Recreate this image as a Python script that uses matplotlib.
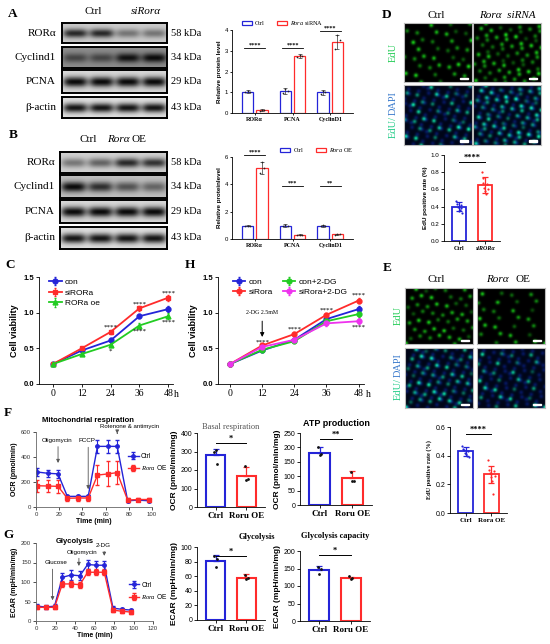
import numpy as np
import matplotlib
matplotlib.use('Agg')
import matplotlib.pyplot as plt
from matplotlib.patches import Rectangle, Patch

plt.rcParams['font.family'] = ['Liberation Sans', 'DejaVu Sans']
plt.rcParams['mathtext.fontset'] = 'custom'
plt.rcParams['mathtext.it'] = 'Liberation Serif:italic'
plt.rcParams['mathtext.rm'] = 'Liberation Serif'
plt.rcParams['axes.linewidth'] = 0.6
plt.rcParams['xtick.major.width'] = 0.6
plt.rcParams['ytick.major.width'] = 0.6
plt.rcParams['xtick.major.size'] = 2
plt.rcParams['ytick.major.size'] = 2
plt.rcParams['xtick.major.pad'] = 1.5
plt.rcParams['ytick.major.pad'] = 1.5

SERIF = ['Liberation Serif', 'DejaVu Serif']
BLUE = '#2424d8'
RED = '#ff2b2b'
GREEN = '#22cc22'
MAG = '#ee33ee'

# ---------------- data ----------------
blot_proteins = ['RORα', 'Cyclind1', 'PCNA', 'β-actin']
blot_kda = ['58 kDa', '34 kDa', '29 kDa', '43 kDa']
blotA_intensity = [[0.85, 0.85, 0.45, 0.45], [0.55, 0.55, 0.95, 1.0], [1, 1, 1, 1], [0.95, 0.95, 0.95, 0.95]]
blotA_bg = [0.80, 0.55, 0.85, 0.88]
blotB_intensity = [[0.45, 0.55, 0.85, 0.8], [1.0, 0.8, 0.6, 0.5], [1, 1, 1, 1], [0.95, 0.95, 0.95, 0.95]]
blotB_bg = [0.82, 0.75, 0.85, 0.88]

bar_groups = ['RORα', 'PCNA', 'CyclinD1']
A_ctrl = [1.03, 1.06, 1.00]
A_ctrl_err = [0.07, 0.16, 0.12]
A_ctrl_pts = [[1.00, 1.08, 1.02], [0.95, 1.15, 1.07], [0.92, 1.06, 1.02]]
A_si = [0.14, 2.75, 3.42]
A_si_err = [0.03, 0.08, 0.35]
A_si_pts = [[0.12, 0.16, 0.14], [2.70, 2.80, 2.75], [3.10, 3.75, 3.50]]
A_sig = ['****', '****', '****']
A_sig_y = [3.15, 3.15, 3.95]

B_ctrl = [0.97, 0.98, 0.97]
B_ctrl_err = [0.04, 0.10, 0.06]
B_ctrl_pts = [[0.95, 0.98, 0.97], [0.92, 1.05, 0.98], [0.94, 1.00, 0.97]]
B_oe = [5.20, 0.30, 0.33]
B_oe_err = [0.45, 0.04, 0.05]
B_oe_pts = [[4.80, 5.60, 5.20], [0.28, 0.32, 0.30], [0.30, 0.36, 0.33]]
B_sig = ['****', '***', '**']
B_sig_y = [6.15, 3.9, 3.9]

hours = [0, 12, 24, 36, 48]
C_con = [0.28, 0.47, 0.61, 0.95, 1.05]
C_si = [0.28, 0.50, 0.73, 1.06, 1.21]
C_oe = [0.28, 0.42, 0.55, 0.82, 0.95]
C_err = [0.01, 0.02, 0.03, 0.03, 0.04]
C_stars_up = [(24, 0.79, '****'), (36, 1.12, '****'), (48, 1.27, '****')]
C_stars_dn = [(24, 0.46, '*'), (36, 0.74, '****'), (48, 0.87, '****')]

H_con = [0.28, 0.47, 0.62, 0.91, 1.05]
H_con2dg = [0.28, 0.48, 0.60, 0.88, 0.98]
H_si = [0.28, 0.54, 0.70, 0.97, 1.17]
H_si2dg = [0.28, 0.52, 0.62, 0.85, 0.88]
H_stars_up = [(12, 0.58, '****'), (24, 0.77, '****'), (36, 1.03, '****'), (48, 1.24, '****')]
H_stars_dn = [(48, 0.80, '****')]

D_labels = ['Ctrl', 'siRORα']
D_vals = [0.40, 0.65]
D_err = [0.05, 0.09]
D_pts = [[0.47, 0.43, 0.40, 0.35, 0.36, 0.38, 0.42, 0.33], [0.80, 0.73, 0.68, 0.62, 0.58, 0.55, 0.66, 0.60]]
D_edu_counts = [38, 65]

E_labels = ['Ctrl', 'Rora OE']
E_vals = [0.43, 0.27]
E_err = [0.03, 0.06]
E_pts = [[0.47, 0.45, 0.44, 0.42, 0.41, 0.40, 0.43, 0.39], [0.37, 0.30, 0.28, 0.27, 0.25, 0.22, 0.13, 0.29, 0.26]]
E_edu_counts = [48, 28]

t_min = [1, 10, 19, 27, 36, 45, 53, 62, 70, 79, 88, 97]
ocr_ctrl = [280, 270, 265, 85, 85, 85, 485, 485, 485, 50, 55, 50]
ocr_ctrl_err = [30, 30, 30, 15, 15, 15, 55, 55, 55, 10, 10, 10]
ocr_oe = [170, 168, 165, 70, 72, 72, 255, 265, 275, 55, 60, 60]
ocr_oe_err = [50, 50, 50, 20, 20, 20, 80, 100, 90, 15, 15, 15]

ecar_ctrl = [38, 36, 38, 112, 118, 116, 145, 143, 143, 33, 30, 28]
ecar_ctrl_err = [5, 4, 5, 12, 12, 12, 12, 12, 12, 5, 4, 4]
ecar_oe = [35, 35, 35, 95, 95, 93, 125, 125, 125, 28, 25, 23]
ecar_oe_err = [4, 4, 4, 8, 8, 8, 8, 8, 8, 4, 4, 4]

grp2 = ['Ctrl', 'Roru OE']
basal_vals = [280, 170]
basal_err = [35, 48]
basal_pts = [[300, 310, 235], [220, 148, 150]]
atp_vals = [180, 95]
atp_err = [22, 22]
atp_pts = [[200, 172, 178], [115, 85, 85]]
glyc_vals = [81, 58]
glyc_err = [8, 5]
glyc_pts = [[87, 73, 83], [62, 56, 58]]
cap_vals = [145, 122]
cap_err = [13, 5]
cap_pts = [[155, 133, 150], [128, 120, 122]]

# ---------------- helpers ----------------
W, Hh = 550, 644
fig = plt.figure(figsize=(5.5, 6.44), dpi=100)


def axpx(x0, y0, x1, y1):
    return fig.add_axes([x0 / W, 1 - y1 / Hh, (x1 - x0) / W, (y1 - y0) / Hh])


def txt(x, y, s, **kw):
    kw.setdefault('ha', 'center')
    kw.setdefault('va', 'center')
    fig.text(x / W, 1 - y / Hh, s, **kw)


def panel(x, y, s):
    txt(x, y, s, fontsize=9.5, fontweight='bold', family=SERIF)


def blot_row(ax, intens, bg):
    h, w = 30, 160
    yy, xx = np.mgrid[0:h, 0:w]
    img = np.full((h, w), float(bg))
    centers = (np.arange(len(intens)) + 0.5) * w / len(intens)
    for c, it in zip(centers, intens):
        prof = np.exp(-(((xx - c) / (w / 8.6)) ** 4)) * np.exp(-(((yy - h * 0.5) / (h * 0.22)) ** 2))
        img -= it * prof * (bg - 0.04)
    ax.imshow(img, cmap='gray', vmin=0, vmax=1, aspect='auto', interpolation='bilinear')
    ax.set_xticks([])
    ax.set_yticks([])
    for s in ax.spines.values():
        s.set_linewidth(1.4)


def nuclei_image(n_edu, shift, dapi=False):
    h, w = 60, 70
    yy, xx = np.mgrid[0:h, 0:w]
    img = np.zeros((h, w, 3))
    a1, a2 = 0.7548776662, 0.5698402910
    if dapi:
        img[:] = [0.0, 0.02, 0.09]
        for i in range(75):
            px = ((0.13 + shift + a1 * (i + 1)) % 1) * w
            py = ((0.41 + shift * 0.37 + a2 * (i + 1)) % 1) * h
            g = np.exp(-((xx - px) ** 2 + (yy - py) ** 2) / (2 * 1.5 ** 2))
            img += g[..., None] * np.array([0.04, 0.12, 0.5]) * 0.55
    fg = np.array([0.05, 0.85, 0.55]) if dapi else np.array([0.1, 0.85, 0.1])
    for i in range(n_edu):
        px = ((shift + a1 * (i + 1)) % 1) * w
        py = ((shift * 0.37 + a2 * (i + 1)) % 1) * h
        inten = 0.35 + 0.65 * ((i * 0.618 + shift) % 1)
        g = np.exp(-((xx - px) ** 2 + (yy - py) ** 2) / (2 * 1.45 ** 2))
        img += g[..., None] * fg * inten
    return np.clip(img, 0, 1)


def show_img(ax, img):
    ax.imshow(img, aspect='auto', interpolation='bilinear')
    ax.add_patch(Rectangle((img.shape[1] - 13, img.shape[0] - 5), 8, 1.3, color='white'))
    ax.set_xticks([])
    ax.set_yticks([])
    for s in ax.spines.values():
        s.set_color('#bbbbbb')
        s.set_linewidth(0.8)


def group_bar(ax, ctrl, cerr, cpts, trt, terr, tpts, ymax, yticks, sig, sig_y, legend_labels, ylabel, leg_x):
    x = np.arange(len(bar_groups))
    w = 0.3
    for off, vals, errs, pts, col, lab in [(-0.19, ctrl, cerr, cpts, BLUE, legend_labels[0]),
                                          (0.19, trt, terr, tpts, RED, legend_labels[1])]:
        ax.bar(x + off, vals, w, facecolor='white', edgecolor=col, lw=0.9, label=lab)
        ax.errorbar(x + off, vals, yerr=errs, fmt='none', ecolor='#333333', elinewidth=0.5, capsize=1.5, capthick=0.5)
        for xi, p in zip(x + off, pts):
            ax.scatter([xi - 0.06, xi, xi + 0.06], p, s=1.5, color='#222222', zorder=3, lw=0)
    for xi, s, yy in zip(x, sig, sig_y):
        ax.plot([xi - 0.28, xi + 0.28], [yy, yy], color='k', lw=0.6, clip_on=False)
        ax.text(xi, yy, s, ha='center', va='bottom', fontsize=4.5, family=SERIF, fontweight='bold')
    ax.set_ylim(0, ymax)
    ax.set_yticks(yticks)
    ax.set_xticks(x)
    ax.set_xticklabels(bar_groups, fontsize=4.3, family=SERIF, fontweight='bold')
    ax.tick_params(axis='y', labelsize=4.3, length=1.5)
    ax.tick_params(axis='x', length=1.5)
    ax.set_xlim(-0.6, 2.6)
    ax.set_ylabel(ylabel, fontsize=4.5, fontweight='bold', labelpad=2)
    for s in ['top', 'right']:
        ax.spines[s].set_visible(False)
    handles = [Patch(facecolor='white', edgecolor=BLUE, lw=0.9), Patch(facecolor='white', edgecolor=RED, lw=0.9)]
    ax.legend(handles, legend_labels, loc='lower center', bbox_to_anchor=(leg_x, 0.97), ncol=2, frameon=False,
              handlelength=1.6, handleheight=0.6, columnspacing=2.0, handletextpad=0.5,
              prop={'family': SERIF, 'size': 4.5})


def two_bar(ax, labels, vals, errs, pts, ymax, yticks, sig, sig_y, ylabel, width=0.62, lw=1.5,
            dot_color=None, both_err=False, tick_fs=5, lab_fs=6, xfs=6.5):
    cols = [BLUE, RED]
    x = np.arange(2)
    ax.bar(x, vals, width, facecolor='white', edgecolor=cols, lw=lw)
    for xi, v, e, c, p in zip(x, vals, errs, cols, pts):
        ye = [[e], [e]] if both_err else [[0], [e]]
        ax.errorbar([xi], [v], yerr=ye, fmt='none', ecolor=c, elinewidth=0.9, capsize=2.5, capthick=0.9)
        k = len(p)
        offs = np.linspace(-0.12, 0.12, k) if k > 3 else np.array([-0.05, 0.0, 0.05])[:k]
        dc = c if dot_color is None else dot_color
        ax.scatter(xi + offs, p, s=4 if dot_color else 2.5, color=dc, zorder=3, lw=0)
    ax.plot([0, 1], [sig_y, sig_y], color='k', lw=0.7, clip_on=False)
    ax.text(0.5, sig_y, sig, ha='center', va='bottom', fontsize=6, family=SERIF, fontweight='bold')
    ax.set_ylim(0, ymax)
    ax.set_yticks(yticks)
    ax.set_xlim(-0.6, 1.6)
    ax.set_xticks(x)
    ax.set_xticklabels(labels, fontsize=xfs, family=SERIF, fontweight='bold')
    ax.tick_params(axis='y', labelsize=tick_fs)
    ax.set_ylabel(ylabel, fontsize=lab_fs, fontweight='bold', labelpad=2)
    for s in ['top', 'right']:
        ax.spines[s].set_visible(False)


def edu_labels(x, y_edu, y_mid):
    txt(x, y_edu, 'EdU', fontsize=7.5, family=SERIF, rotation=90, color='#22cc55')
    txt(x, y_mid + 1, 'EdU/', fontsize=7.5, family=SERIF, rotation=90, color='#22cc88', va='top')
    txt(x, y_mid, 'DAPI', fontsize=7.5, family=SERIF, rotation=90, color='#3a7acc', va='bottom')


# ---------------- A & B blots ----------------
panel(13, 14, 'A')
txt(93, 12, 'Ctrl', fontsize=8, family=SERIF)
txt(146, 12, 'siRorα', fontsize=8, family=SERIF, style='italic')
rowsA = [(23, 43), (47, 68), (70, 93), (97, 118)]
for (y0, y1), it, bg, name, kda in zip(rowsA, blotA_intensity, blotA_bg, blot_proteins, blot_kda):
    ax = axpx(62, y0, 167, y1)
    blot_row(ax, it, bg)
    txt(56, (y0 + y1) / 2, name, fontsize=8, family=SERIF, ha='right')
    txt(171, (y0 + y1) / 2, kda, fontsize=7.5, family=SERIF, ha='left')

panel(13, 135, 'B')
txt(88, 139, 'Ctrl', fontsize=8, family=SERIF)
txt(118, 139, 'Rorα', fontsize=8, family=SERIF, style='italic')
txt(139, 139, 'OE', fontsize=8, family=SERIF)
rowsB = [(152, 173), (175, 198), (200, 223), (227, 249)]
for (y0, y1), it, bg, name, kda in zip(rowsB, blotB_intensity, blotB_bg, blot_proteins, blot_kda):
    ax = axpx(60, y0, 167, y1)
    blot_row(ax, it, bg)
    txt(55, (y0 + y1) / 2, name, fontsize=8, family=SERIF, ha='right')
    txt(171, (y0 + y1) / 2, kda, fontsize=7.5, family=SERIF, ha='left')

axA = axpx(232, 30, 353, 113)
group_bar(axA, A_ctrl, A_ctrl_err, A_ctrl_pts, A_si, A_si_err, A_si_pts, 4, [0, 1, 2, 3, 4], A_sig, A_sig_y,
          ['Ctrl', r'$\mathit{Rora}$ siRNA'], 'Relative protein level', 0.42)
axB = axpx(232, 157, 353, 239)
group_bar(axB, B_ctrl, B_ctrl_err, B_ctrl_pts, B_oe, B_oe_err, B_oe_pts, 6, [0, 2, 4, 6], B_sig, B_sig_y,
          ['Ctrl', r'$\mathit{Rora}$ OE'], 'Relative proteinlevel', 0.70)

# ---------------- C ----------------
panel(10, 265, 'C')
axC = axpx(39, 277, 173, 384)
axC.errorbar(hours, C_con, yerr=C_err, fmt='-o', color=BLUE, ms=3.5, lw=1.3, capsize=1, elinewidth=0.6, label='con')
axC.errorbar(hours, C_si, yerr=C_err, fmt='-s', color=RED, ms=3.5, lw=1.3, capsize=1, elinewidth=0.6, label='siRORa')
axC.errorbar(hours, C_oe, yerr=C_err, fmt='-^', color=GREEN, ms=3.5, lw=1.3, capsize=1, elinewidth=0.6, label='RORa oe')
for x_, y_, s in C_stars_up + C_stars_dn:
    axC.text(x_, y_, s, ha='center', va='center', fontsize=5, family=SERIF)

# ---------------- H ----------------
panel(190, 265, 'H')
axH = axpx(218, 277, 364, 384)
axH.errorbar(hours, H_con, yerr=C_err, fmt='-o', color=BLUE, ms=3.5, lw=1.3, capsize=1, elinewidth=0.6, label='con')
axH.errorbar(hours, H_si, yerr=C_err, fmt='-o', color=RED, ms=3.5, lw=1.3, capsize=1, elinewidth=0.6, label='siRora')
axH.errorbar(hours, H_con2dg, yerr=C_err, fmt='-o', color=GREEN, ms=3.5, lw=1.3, capsize=1, elinewidth=0.6, label='con+2-DG')
axH.errorbar(hours, H_si2dg, yerr=C_err, fmt='-o', color=MAG, ms=3.5, lw=1.3, capsize=1, elinewidth=0.6, label='siRora+2-DG')
for x_, y_, s in H_stars_up + H_stars_dn:
    axH.text(x_, y_, s, ha='center', va='center', fontsize=5, family=SERIF)
axH.annotate('', xy=(12, 0.62), xytext=(12, 0.92),
             arrowprops=dict(arrowstyle='-|>', color='k', lw=0.7, mutation_scale=6))
axH.text(12, 0.97, '2-DG 2.5mM', ha='center', va='bottom', fontsize=4.2, family=SERIF)

for ax, xl in [(axC, (-5.8, 50)), (axH, (-4.5, 50))]:
    ax.set_ylim(0, 1.5)
    ax.set_yticks([0, 0.5, 1.0, 1.5])
    ax.set_yticklabels(['0.0', '0.5', '1.0', '1.5'], fontsize=5.5, fontweight='bold')
    ax.set_xlim(*xl)
    ax.set_xticks(hours)
    ax.set_xticklabels([str(h) for h in hours], fontsize=7, family=SERIF)
    ax.set_ylabel('Cell viability', fontsize=6.5, fontweight='bold', labelpad=3)
    for s in ['top', 'right']:
        ax.spines[s].set_visible(False)
    ax.text(1.01, -0.055, 'h', transform=ax.transAxes, fontsize=7, family=SERIF, ha='left', va='top')
axC.legend(loc='upper left', bbox_to_anchor=(0.02, 1.06), frameon=False, fontsize=6, handlelength=1.5,
           labelspacing=0.35, handletextpad=0.4)
axH.legend(loc='upper left', bbox_to_anchor=(0.05, 1.06), frameon=False, fontsize=6, ncol=2, handlelength=1.5,
           labelspacing=0.25, handletextpad=0.4, columnspacing=1.2)

# ---------------- D ----------------
panel(387, 15, 'D')
txt(436, 15, 'Ctrl', fontsize=8, family=SERIF)
txt(507, 15, 'Rorα  siRNA', fontsize=8, family=SERIF, style='italic')
edu_labels(393, 52, 115)
for j, n in enumerate(D_edu_counts):
    x0 = 404 if j == 0 else 473
    show_img(axpx(x0, 23, x0 + 68, 82), nuclei_image(n, 0.11 + 0.3 * j))
    show_img(axpx(x0, 85, x0 + 68, 145), nuclei_image(n, 0.11 + 0.3 * j, dapi=True))
axD = axpx(444, 155, 500, 241)
two_bar(axD, D_labels, D_vals, D_err, D_pts, 1.0, [0, 0.2, 0.4, 0.6, 0.8, 1.0], '****', 0.92,
        'EdU positive rate (%)', width=0.55, lw=1.3, both_err=True, tick_fs=4.5, lab_fs=4.5, xfs=4.3)
axD.set_yticklabels(['0.0', '0.2', '0.4', '0.6', '0.8', '1.0'])
axD.get_xticklabels()[1].set_style('italic')

# ---------------- E ----------------
panel(387, 268, 'E')
txt(436, 279, 'Ctrl', fontsize=8, family=SERIF)
txt(497, 279, 'Rorα', fontsize=8, family=SERIF, style='italic')
txt(523, 279, 'OE', fontsize=8, family=SERIF)
edu_labels(398, 315, 377)
for j, n in enumerate(E_edu_counts):
    x0 = 405 if j == 0 else 477
    show_img(axpx(x0, 288, x0 + 68, 344), nuclei_image(n, 0.53 + 0.2 * j))
    show_img(axpx(x0, 348, x0 + 68, 408), nuclei_image(n, 0.53 + 0.2 * j, dapi=True))
axE = axpx(450, 427, 507, 513)
two_bar(axE, E_labels, E_vals, E_err, E_pts, 0.6, [0, 0.2, 0.4, 0.6], '****', 0.55,
        'EdU positive rate (%)', width=0.6, lw=1.3, both_err=True, tick_fs=5, lab_fs=4.5, xfs=5)
axE.set_yticklabels(['0.0', '0.2', '0.4', '0.6'])
axE.yaxis.label.set_family(SERIF)

# ---------------- F ----------------
panel(8, 413, 'F')
axF = axpx(36, 432, 152, 507)
axF.errorbar(t_min, ocr_ctrl, yerr=ocr_ctrl_err, fmt='-o', color=BLUE, ms=2.5, lw=1, capsize=1.5,
             elinewidth=0.8, label='Ctrl')
axF.errorbar(t_min, ocr_oe, yerr=ocr_oe_err, fmt='-s', color=RED, ms=2.5, lw=1, capsize=1.5,
             elinewidth=0.8, label=r'$\mathit{Rora}$ OE')
axF.set_xlim(0, 100)
axF.set_ylim(0, 600)
axF.set_xticks([0, 20, 40, 60, 80, 100])
axF.set_yticks([0, 200, 400, 600])
axF.set_xlabel('Time (min)', fontsize=5, fontweight='bold', labelpad=1)
axF.set_ylabel('OCR (pmol/min)', fontsize=5, fontweight='bold', labelpad=2)
axF.set_title('Mitochondrial respiration', fontsize=5.5, fontweight='bold', pad=7.5, x=0.45)
arr = dict(arrowstyle='-|>', color='#555555', lw=0.6, mutation_scale=5)
axF.annotate('', xy=(19, 330), xytext=(19, 505), arrowprops=arr)
axF.text(18, 515, 'Oligomycin', fontsize=4.5, ha='center', va='bottom')
axF.annotate('', xy=(45, 120), xytext=(45, 500), arrowprops=arr)
axF.text(44, 515, 'FCCP', fontsize=4.5, ha='center', va='bottom')
axF.annotate('', xy=(70, 565), xytext=(70, 612), arrowprops=arr, annotation_clip=False)
axF.text(81, 640, 'Rotenone & antimycin', fontsize=4.3, ha='center', va='center', clip_on=False)
axF.legend(loc='upper left', bbox_to_anchor=(0.74, 0.80), frameon=False, fontsize=4.8, handlelength=1.6,
           labelspacing=0.5, handletextpad=0.3)

axBas = axpx(197, 433, 265, 507)
two_bar(axBas, grp2, basal_vals, basal_err, basal_pts, 400, [0, 100, 200, 300, 400], '*', 346,
        'OCR (pmol/min/mg)', dot_color='#111111')
axBas.set_title('Basal respiration', fontsize=6, family=SERIF, color='#555555', pad=3)
axATP = axpx(300, 433, 372, 505)
two_bar(axATP, grp2, atp_vals, atp_err, atp_pts, 250, [0, 50, 100, 150, 200, 250], '**', 229,
        'OCR (pmol/min/mg)', dot_color='#111111')
axATP.set_title('ATP production', fontsize=6.5, fontweight='bold', pad=5)

# ---------------- G ----------------
panel(8, 535, 'G')
axG = axpx(36, 543, 153, 621)
axG.errorbar(t_min, ecar_ctrl, yerr=ecar_ctrl_err, fmt='-o', color=BLUE, ms=2.5, lw=1, capsize=1.5,
             elinewidth=0.8, label='Ctrl')
axG.errorbar(t_min, ecar_oe, yerr=ecar_oe_err, fmt='-s', color=RED, ms=2.5, lw=1, capsize=1.5,
             elinewidth=0.8, label=r'$\mathit{Rora}$ OE')
axG.set_xlim(0, 120)
axG.set_ylim(0, 200)
axG.set_xticks([0, 20, 40, 60, 80, 100, 120])
axG.set_yticks([0, 50, 100, 150, 200])
axG.set_xlabel('Time (min)', fontsize=5, fontweight='bold', labelpad=1)
axG.set_ylabel('ECAR (mpH/min/mg)', fontsize=5, fontweight='bold', labelpad=2)
axG.text(0.17, 0.97, 'Glycolysis', transform=axG.transAxes, fontsize=5.5, fontweight='bold', ha='left', va='bottom')
axG.annotate('', xy=(17, 46), xytext=(17, 140), arrowprops=arr)
axG.text(21, 143, 'Glucose', fontsize=4.5, ha='center', va='bottom')
axG.annotate('', xy=(44, 134), xytext=(44, 168), arrowprops=arr)
axG.text(47, 170, 'Oligomycin', fontsize=4.5, ha='center', va='bottom')
axG.annotate('', xy=(70, 160), xytext=(70, 185), arrowprops=arr)
axG.text(69, 187, '2-DG', fontsize=4.5, ha='center', va='bottom')
axG.legend(loc='upper left', bbox_to_anchor=(0.74, 0.58), frameon=False, fontsize=4.8, handlelength=1.6,
           labelspacing=0.5, handletextpad=0.3)

for ax in [axF, axG]:
    ax.tick_params(labelsize=4.3, colors='#333333')
    for s in ['top', 'right']:
        ax.spines[s].set_visible(False)
    for s in ['left', 'bottom']:
        ax.spines[s].set_color('#666666')

axGly = axpx(197, 547, 265, 620)
two_bar(axGly, grp2, glyc_vals, glyc_err, glyc_pts, 100, [0, 20, 40, 60, 80, 100], '*', 88,
        'ECAR (mpH/min/mg)', dot_color='#111111')
axGly.text(0.88, 1.08, 'Glycolysis', transform=axGly.transAxes, fontsize=6, family=SERIF, fontweight='bold',
           ha='center', va='bottom')
axCap = axpx(300, 551, 370, 621)
two_bar(axCap, grp2, cap_vals, cap_err, cap_pts, 200, [0, 50, 100, 150, 200], '*', 189,
        'ECAR (mpH/min/mg)', dot_color='#111111')
axCap.set_title('Glycolysis capacity', fontsize=6, family=SERIF, fontweight='bold', pad=9)

fig.savefig('out.png', dpi=100)
